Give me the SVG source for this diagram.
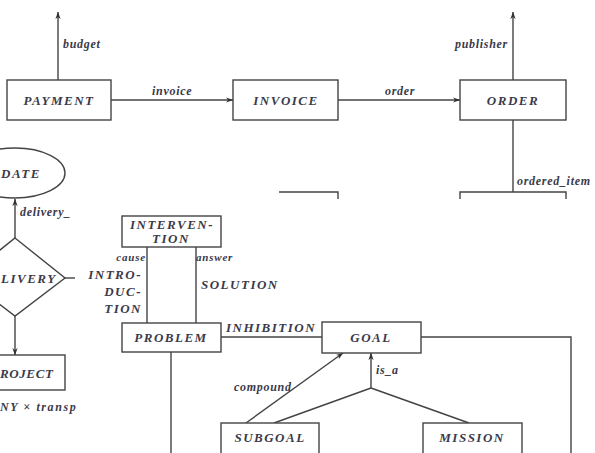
<svg xmlns="http://www.w3.org/2000/svg" width="595" height="453" viewBox="0 0 595 453">
<style>
.box{fill:#fff;stroke:#444;stroke-width:1.4}
.ln{fill:none;stroke:#444;stroke-width:1.4}
.bl{font-family:"Liberation Serif",serif;font-style:italic;font-weight:bold;font-size:13px;fill:#3a3a4a;letter-spacing:1.5px;text-anchor:middle}
.lb{font-family:"Liberation Serif",serif;font-style:italic;font-weight:bold;font-size:12px;fill:#3a3a4a;letter-spacing:0.7px}
.sm{font-family:"Liberation Serif",serif;font-style:italic;font-weight:bold;font-size:11px;fill:#3a3a4a;letter-spacing:0.8px}
</style>
<defs>
<marker id="ah" viewBox="0 0 10 8" refX="9.5" refY="4" markerWidth="8" markerHeight="6" orient="auto" markerUnits="userSpaceOnUse">
<path d="M0,0.5 L10,4 L0,7.5 L3,4 z" fill="#333"/>
</marker>
<clipPath id="leftclip"><rect x="0" y="140" width="75" height="280"/></clipPath>
<clipPath id="topclip"><rect x="0" y="0" width="595" height="199"/></clipPath>
</defs>
<rect width="595" height="453" fill="#fff"/>

<g id="connectors">
<line class="ln" x1="58" y1="80" x2="58" y2="12" marker-end="url(#ah)"/>
<text class="lb" x="63" y="48">budget</text>
<line class="ln" x1="111" y1="100" x2="233" y2="100" marker-end="url(#ah)"/>
<text class="lb" x="152" y="95">invoice</text>
<line class="ln" x1="338" y1="100" x2="460" y2="100" marker-end="url(#ah)"/>
<text class="lb" x="385" y="95">order</text>
<line class="ln" x1="513" y1="80" x2="513" y2="12" marker-end="url(#ah)"/>
<text class="lb" x="455" y="48">publisher</text>
<line class="ln" x1="513" y1="120" x2="513" y2="192"/>
<text class="lb" x="517" y="185">ordered_item</text>

<g clip-path="url(#leftclip)">
<line class="ln" x1="15" y1="238" x2="15" y2="199" marker-end="url(#ah)"/>
<line class="ln" x1="65" y1="278" x2="75" y2="278"/>
<line class="ln" x1="15" y1="316" x2="15" y2="355" marker-end="url(#ah)"/>
</g>
<text class="lb" x="20" y="216">delivery_</text>

<line class="ln" x1="147" y1="247" x2="147" y2="323"/>
<line class="ln" x1="196" y1="247" x2="196" y2="323"/>
<text class="sm" x="146" y="261" text-anchor="end">cause</text>
<text class="sm" x="196" y="261">answer</text>
<text class="bl" x="142" y="279" style="text-anchor:end">INTRO-</text>
<text class="bl" x="142" y="296" style="text-anchor:end">DUC-</text>
<text class="bl" x="142" y="313" style="text-anchor:end">TION</text>
<text class="bl" x="201" y="289" style="text-anchor:start">SOLUTION</text>

<line class="ln" x1="221" y1="337" x2="322" y2="337"/>
<text class="bl" x="226" y="332" style="text-anchor:start">INHIBITION</text>
<line class="ln" x1="171" y1="352" x2="171" y2="453"/>
<polyline class="ln" points="421,337 571,337 571,453"/>

<line class="ln" x1="371" y1="388" x2="371" y2="353" marker-end="url(#ah)"/>
<text class="lb" x="376" y="374">is_a</text>
<line class="ln" x1="371" y1="388" x2="274" y2="423"/>
<line class="ln" x1="371" y1="388" x2="469" y2="423"/>
<line class="ln" x1="246" y1="423" x2="343" y2="353" marker-end="url(#ah)"/>
<text class="lb" x="234" y="391">compound</text>
</g>

<g id="payment">
<rect class="box" x="7" y="80" width="104" height="40"/>
<text class="bl" x="59" y="105">PAYMENT</text>
</g>
<g id="invoice">
<rect class="box" x="233" y="80" width="105" height="40"/>
<text class="bl" x="286" y="105">INVOICE</text>
</g>
<g id="order">
<rect class="box" x="460" y="80" width="106" height="40"/>
<text class="bl" x="513" y="105">ORDER</text>
</g>
<g id="lower-boxes" clip-path="url(#topclip)">
<polyline class="ln" points="279,192 338,192 338,205"/>
<polyline class="ln" points="460,205 460,192 566,192 566,205"/>
</g>

<g id="date">
<ellipse class="box" cx="15" cy="173" rx="50" ry="25" clip-path="url(#leftclip)"/>
<text class="bl" x="1" y="178" style="text-anchor:start">DATE</text>
</g>
<g id="delivery">
<polygon class="box" points="15,238 65,278 15,316 -35,278" clip-path="url(#leftclip)"/>
<text class="bl" x="1" y="283" style="text-anchor:start">LIVERY</text>
</g>
<g id="project">
<rect class="box" x="-40" y="355" width="105" height="35" clip-path="url(#leftclip)"/>
<text class="bl" x="0" y="378" style="text-anchor:start;letter-spacing:0.6px">ROJECT</text>
<text class="lb" x="0" y="411" style="font-size:12px;letter-spacing:1.6px">NY × transp</text>
</g>

<g id="intervention">
<rect class="box" x="122" y="216" width="99" height="31"/>
<text class="bl" x="172" y="229">INTERVEN-</text>
<text class="bl" x="171" y="243">TION</text>
</g>
<g id="problem">
<rect class="box" x="122" y="323" width="99" height="29"/>
<text class="bl" x="171" y="342">PROBLEM</text>
</g>
<g id="goal">
<rect class="box" x="322" y="322" width="99" height="31"/>
<text class="bl" x="371" y="342">GOAL</text>
</g>
<g id="subgoal">
<rect class="box" x="221" y="423" width="98" height="40"/>
<text class="bl" x="270" y="442">SUBGOAL</text>
</g>
<g id="mission">
<rect class="box" x="423" y="423" width="99" height="40"/>
<text class="bl" x="472" y="442">MISSION</text>
</g>
</svg>
